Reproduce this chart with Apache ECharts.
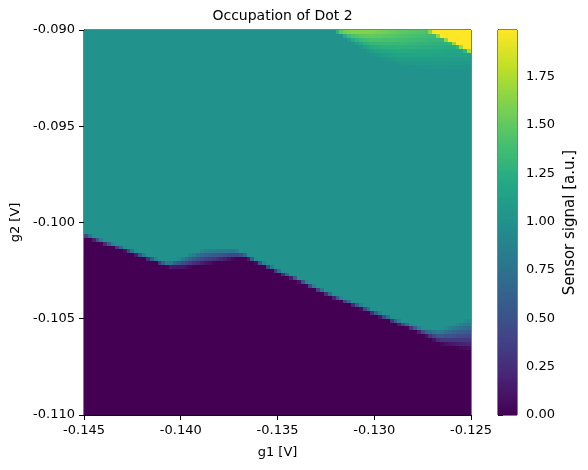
<!DOCTYPE html>
<html>
<head>
<meta charset="utf-8">
<script src="https://cdn.jsdelivr.net/npm/echarts@6/dist/echarts.min.js"></script>
<style>
  html, body { margin: 0; padding: 0; background: #fff; }
  #chart { width: 588px; height: 470px; }
</style>
</head>
<body>
<div id="chart"></div>
<script>
// sweep ranges (V), 100 x 100 pixels
const g1Range = [-0.145, -0.125];
const g2Range = [-0.110, -0.090];
const nCells = 100;

// tick labels
const g1Ticks = [-0.145, -0.140, -0.135, -0.130, -0.125];
const g2Ticks = [-0.110, -0.105, -0.100, -0.095, -0.090];
const cbarTicks = [0, 0.25, 0.5, 0.75, 1.0, 1.25, 1.5, 1.75];

// signal levels
const levelEmpty = 0.0;
const levelDot = 1.0;
const levelTop = 1.99;

// lower transition line: g1, centre g2, blur width
const lowG1 = [-0.14500, -0.14112, -0.14061, -0.13978, -0.13875, -0.13720, -0.13668, -0.13213, -0.12748, -0.12660, -0.12500];
const lowG2 = [-0.10065, -0.10205, -0.10221, -0.10205, -0.10179, -0.10164, -0.10174, -0.10382, -0.10569, -0.10595, -0.10580];
const lowWidth = [0.00022, 0.00022, 0.00026, 0.00062, 0.00083, 0.00052, 0.00022, 0.00022, 0.00031, 0.00073, 0.00175];

// green shoulder at the top: where it starts fading in, and extra signal at the top row
const greenG1 = [-0.13213, -0.13125, -0.13022, -0.12867, -0.12712, -0.12500];
const greenEdgeG2 = [-0.09000, -0.09062, -0.09130, -0.09187, -0.09208, -0.09208];
const greenAmp = [0.74, 0.72, 0.66, 0.52, 0.42, 0.36];

// yellow corner line
const yellowG1 = [-0.12727, -0.12500];
const yellowG2 = [-0.09000, -0.09119];

const viridis = ['#440154', '#482475', '#414487', '#355f8d', '#2a788e', '#21918c',
  '#22a884', '#44bf70', '#7ad151', '#bddf26', '#fde725'];

function interp(xs, ys, x) {
  if (x <= xs[0]) return ys[0];
  for (let i = 1; i < xs.length; i++) {
    if (x <= xs[i]) {
      const t = (x - xs[i - 1]) / (xs[i] - xs[i - 1]);
      return ys[i - 1] + t * (ys[i] - ys[i - 1]);
    }
  }
  return ys[ys.length - 1];
}
const clamp01 = (v) => Math.max(0, Math.min(1, v));

const step = (g1Range[1] - g1Range[0]) / nCells;
const half = step / 2;

// build the pixel table from the lines above
const cells = [];
for (let i = 0; i < nCells; i++) {
  const g1 = g1Range[0] + (i + 0.5) * step;
  const c = interp(lowG1, lowG2, g1);
  const w = interp(lowG1, lowWidth, g1);
  for (let j = 0; j < nCells; j++) {
    const g2 = g2Range[0] + (j + 0.5) * step;
    let v = levelEmpty + (levelDot - levelEmpty) * clamp01((g2 - c) / w + 0.5);
    if (g1 >= greenG1[0]) {
      const edge = interp(greenG1, greenEdgeG2, g1);
      const span = g2Range[1] - edge;
      if (span > 0) v += interp(greenG1, greenAmp, g1) * clamp01((g2 - edge) / span);
    }
    if (g1 >= yellowG1[0] - half) {
      const yl = interp(yellowG1, yellowG2, g1);
      const t = clamp01((g2 - yl) / step + 0.5);
      v = v * (1 - t) + levelTop * t;
    }
    cells.push([g1, g2, +v.toFixed(3)]);
  }
}

// colorbar strip
const cbarSteps = [];
const cbarN = 200;
for (let k = 0; k < cbarN; k++) {
  const v = (k + 0.5) * levelTop / cbarN;
  cbarSteps.push([0.5, v, v]);
}

const chart = echarts.init(document.getElementById('chart'));
const font = 'DejaVu Sans';

// snap cell edges to whole pixels so there are no seams
function cellRect(a, b, color) {
  const x0 = Math.round(a[0]), x1 = Math.round(b[0]);
  const y0 = Math.round(a[1]), y1 = Math.round(b[1]);
  return {
    type: 'rect',
    shape: { x: x0, y: y0, width: x1 - x0, height: y1 - y0 },
    style: { fill: color, stroke: null }
  };
}

const option = {
  animation: false,
  textStyle: { fontFamily: font, color: '#000' },
  title: {
    text: 'Occupation of Dot 2',
    left: 277.5,
    top: 4,
    textAlign: 'center',
    textStyle: { fontFamily: font, fontSize: 14, fontWeight: 'normal', color: '#000' }
  },
  grid: [
    { left: 84, top: 30, width: 387, height: 385, show: true, borderColor: '#000', borderWidth: 1, backgroundColor: 'transparent' },
    { left: 498, top: 30, width: 19, height: 385, show: true, borderColor: '#000', borderWidth: 1, backgroundColor: 'transparent' }
  ],
  visualMap: {
    show: false,
    type: 'continuous',
    min: 0,
    max: levelTop,
    dimension: 2,
    seriesIndex: [0, 1],
    inRange: { color: viridis }
  },
  xAxis: [
    {
      type: 'value', gridIndex: 0, min: g1Range[0], max: g1Range[1], interval: 0.005,
      name: 'g1 [V]', nameLocation: 'middle', nameGap: 31,
      nameTextStyle: { fontFamily: font, fontSize: 13, color: '#000' },
      axisLine: { show: true, onZero: false, lineStyle: { color: '#000', width: 1 } },
      axisTick: { show: true, inside: false, length: 5, lineStyle: { color: '#000' }, customValues: g1Ticks },
      axisLabel: { margin: 9, fontSize: 13, color: '#000', fontFamily: font, customValues: g1Ticks, formatter: (v) => v.toFixed(3) },
      splitLine: { show: false }
    },
    {
      type: 'value', gridIndex: 1, min: 0, max: 1, show: false
    }
  ],
  yAxis: [
    {
      type: 'value', gridIndex: 0, min: g2Range[0], max: g2Range[1], interval: 0.005,
      name: 'g2 [V]', nameLocation: 'middle', nameGap: 60, nameRotate: 90,
      nameTextStyle: { fontFamily: font, fontSize: 13, color: '#000' },
      axisLine: { show: true, onZero: false, lineStyle: { color: '#000', width: 1 } },
      axisTick: { show: true, inside: false, length: 5, lineStyle: { color: '#000' }, customValues: g2Ticks },
      axisLabel: { margin: 9, fontSize: 13, color: '#000', fontFamily: font, customValues: g2Ticks, formatter: (v) => v.toFixed(3) },
      splitLine: { show: false }
    },
    {
      type: 'value', gridIndex: 1, min: 0, max: levelTop, position: 'right',
      name: 'Sensor signal [a.u.]', nameLocation: 'middle', nameGap: 46, nameRotate: 90,
      nameTextStyle: { fontFamily: font, fontSize: 15, color: '#000' },
      axisLine: { show: true, lineStyle: { color: '#000', width: 1 } },
      axisTick: { show: true, inside: false, length: 5, lineStyle: { color: '#000' }, customValues: cbarTicks },
      axisLabel: { margin: 9, fontSize: 13, color: '#000', fontFamily: font, customValues: cbarTicks, formatter: (v) => v.toFixed(2) },
      splitLine: { show: false }
    }
  ],
  series: [
    {
      type: 'custom',
      xAxisIndex: 0,
      yAxisIndex: 0,
      clip: true,
      data: cells,
      renderItem: function (params, api) {
        // cell edges from the cell index, so neighbours share exactly the same edge
        const i = Math.round((api.value(0) - g1Range[0]) / step - 0.5);
        const j = Math.round((api.value(1) - g2Range[0]) / step - 0.5);
        const p0 = api.coord([g1Range[0] + i * step, g2Range[0] + (j + 1) * step]);
        const p1 = api.coord([g1Range[0] + (i + 1) * step, g2Range[0] + j * step]);
        return cellRect(p0, p1, api.visual('color'));
      }
    },
    {
      type: 'custom',
      xAxisIndex: 1,
      yAxisIndex: 1,
      clip: true,
      data: cbarSteps,
      renderItem: function (params, api) {
        const k = params.dataIndex;
        const p0 = api.coord([0, (k + 1) * levelTop / cbarN]);
        const p1 = api.coord([1, k * levelTop / cbarN]);
        return cellRect(p0, p1, api.visual('color'));
      }
    }
  ]
};

chart.setOption(option);
</script>
</body>
</html>
